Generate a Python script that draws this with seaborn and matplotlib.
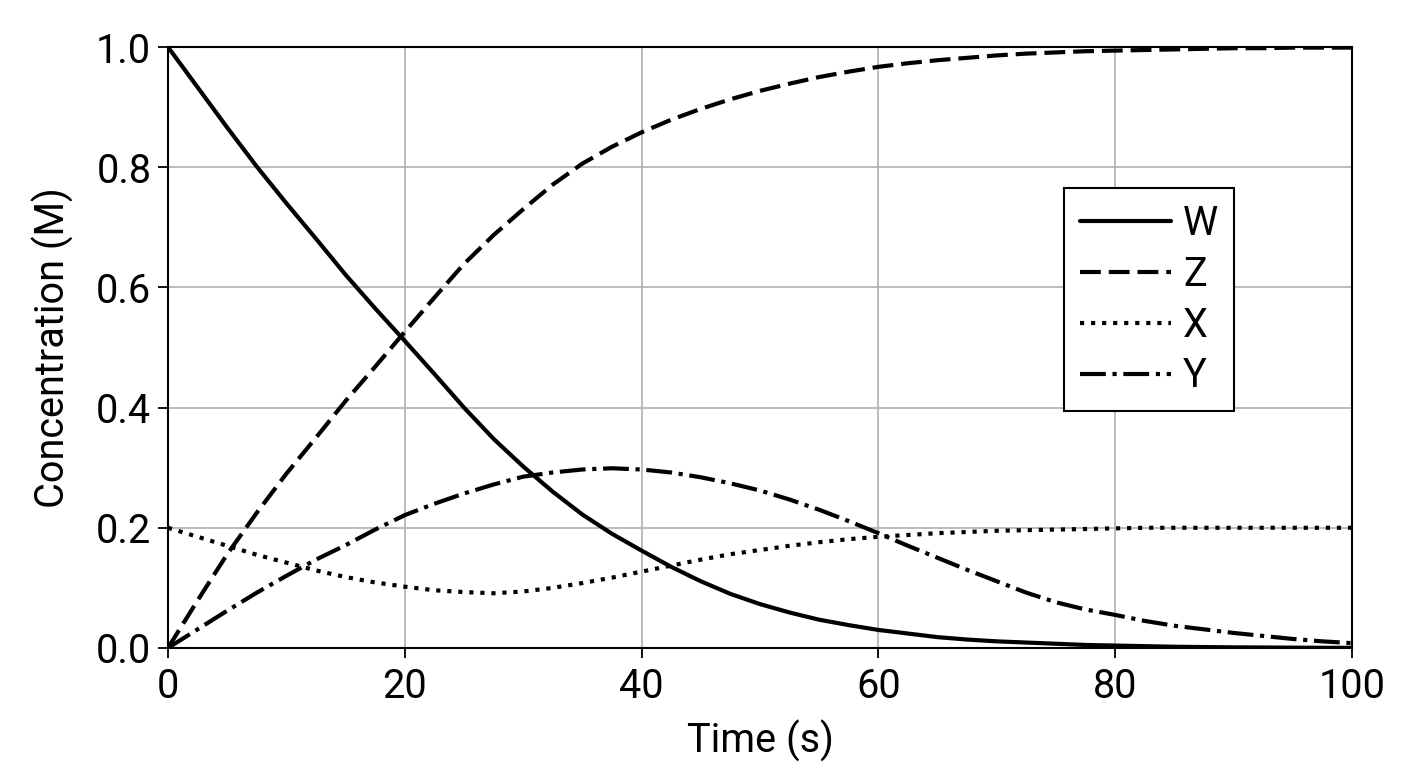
import matplotlib
matplotlib.use('Agg')
import matplotlib.pyplot as plt
import seaborn as sns

time = [0, 2.5, 5, 7.5, 10, 12.5, 15, 17.5, 20, 22.5, 25, 27.5, 30, 32.5, 35, 37.5, 40,
        42.5, 45, 47.5, 50, 52.5, 55, 57.5, 60, 62.5, 65, 67.5, 70, 72.5, 75, 77.5, 80,
        82.5, 85, 87.5, 90, 92.5, 95, 97.5, 100]
W = [1.0, 0.933, 0.866, 0.801, 0.74, 0.681, 0.621, 0.565, 0.511, 0.456, 0.40, 0.348, 0.302,
     0.26, 0.222, 0.19, 0.162, 0.135, 0.111, 0.09, 0.073, 0.059, 0.047, 0.038, 0.030, 0.024,
     0.018, 0.014, 0.011, 0.009, 0.007, 0.005, 0.004, 0.003, 0.002, 0.0015, 0.001, 0.0008,
     0.0005, 0.0003, 0.0002]
Z = [0.0, 0.079, 0.156, 0.225, 0.29, 0.35, 0.411, 0.468, 0.526, 0.583, 0.639, 0.687, 0.73,
     0.771, 0.806, 0.834, 0.858, 0.879, 0.897, 0.913, 0.927, 0.939, 0.95, 0.959, 0.967, 0.973,
     0.978, 0.982, 0.986, 0.989, 0.991, 0.993, 0.994, 0.995, 0.996, 0.997, 0.998, 0.998,
     0.999, 0.999, 0.999]
X = [0.2, 0.185, 0.17, 0.155, 0.142, 0.129, 0.118, 0.109, 0.102, 0.096, 0.093, 0.091, 0.094,
     0.1, 0.108, 0.117, 0.127, 0.137, 0.147, 0.156, 0.163, 0.17, 0.176, 0.181, 0.185, 0.188,
     0.191, 0.193, 0.195, 0.196, 0.197, 0.198, 0.199, 0.2, 0.2, 0.2, 0.2, 0.2, 0.2, 0.2, 0.2]
Y = [0.0, 0.031, 0.062, 0.092, 0.12, 0.147, 0.171, 0.197, 0.221, 0.24, 0.257, 0.272, 0.285,
     0.292, 0.297, 0.299, 0.297, 0.292, 0.284, 0.274, 0.262, 0.247, 0.23, 0.211, 0.191, 0.17,
     0.15, 0.13, 0.111, 0.092, 0.076, 0.064, 0.055, 0.045, 0.037, 0.031, 0.025, 0.02, 0.015,
     0.011, 0.008]

series = {'W': W, 'Z': Z, 'X': X, 'Y': Y}
styles = {'W': '-', 'Z': (0, (5, 1.9)), 'X': (0, (1, 1.65)), 'Y': (0, (6.2, 1.6, 1, 1.6))}

sns.set_theme(style='ticks')
plt.rcParams['font.family'] = ['Roboto', 'DejaVu Sans']
plt.rcParams['text.color'] = 'black'

fig = plt.figure(figsize=(14.08, 7.68), dpi=100)
ax = fig.add_axes([0.1193, 0.1563, 0.8409, 0.7825])

for name, vals in series.items():
    sns.lineplot(x=time, y=vals, ax=ax, color='black', lw=3.0, linestyle=styles[name], label=name)

ax.set_xlim(0, 100)
ax.set_ylim(0, 1)
ax.set_xticks([0, 20, 40, 60, 80, 100])
ax.set_yticks([0, 0.2, 0.4, 0.6, 0.8, 1.0])
ax.set_yticklabels(['0.0', '0.2', '0.4', '0.6', '0.8', '1.0'])
ax.grid(True, color='#b0b0b0', lw=1.2)
ax.set_axisbelow(True)
for s in ax.spines.values():
    s.set_color('black')
    s.set_linewidth(1.5)
ax.tick_params(labelsize=28.5, length=7, width=1.3, color='black', labelcolor='black', pad=5)
ax.tick_params(axis='x', pad=7)
ax.set_xlabel('Time (s)', fontsize=28.5, color='black', labelpad=10)
ax.set_ylabel('Concentration (M)', fontsize=28.5, color='black', labelpad=16)

leg = ax.legend(loc='upper right', bbox_to_anchor=(0.9003, 0.7654), borderaxespad=0,
                fontsize=28.5, frameon=True, fancybox=False, edgecolor='black',
                labelcolor='black', handlelength=2.3, handletextpad=0.3,
                labelspacing=0.3, borderpad=0.4)
leg.get_frame().set_linewidth(1.5)
leg.get_frame().set_alpha(1)

fig.savefig('out.png', dpi=100)
